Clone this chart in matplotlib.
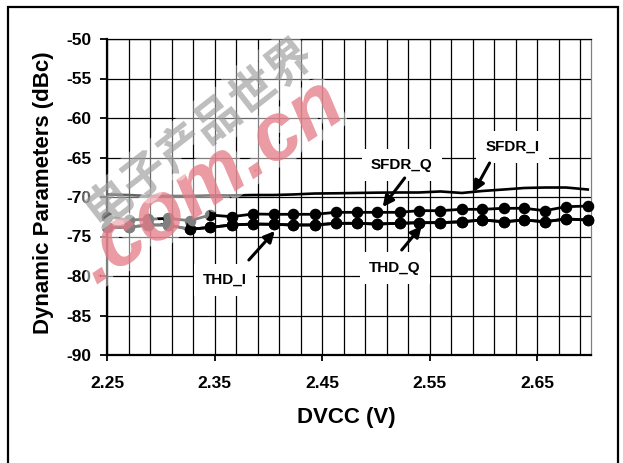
import numpy as np
import matplotlib
matplotlib.use("Agg")
import matplotlib.pyplot as plt
import matplotlib.patheffects as pe
from matplotlib.patches import Rectangle

# ---- data ----
dvcc = [2.250, 2.270, 2.288, 2.307, 2.327, 2.346, 2.366, 2.386, 2.405, 2.423,
        2.443, 2.463, 2.482, 2.501, 2.522, 2.540, 2.560, 2.580, 2.599, 2.619,
        2.638, 2.657, 2.677, 2.697]
sfdr_i = [-69.68, -69.75, -69.87, -69.87, -69.87, -69.80, -69.80, -69.75, -69.75, -69.68,
          -69.56, -69.53, -69.49, -69.45, -69.43, -69.43, -69.30, -69.49, -69.24, -69.05,
          -68.86, -68.80, -68.80, -69.05]
sfdr_q = [-72.49, -72.91, -72.82, -72.70, -73.00, -72.28, -72.49, -72.15, -72.19, -72.19,
          -72.19, -71.94, -71.94, -71.94, -71.94, -71.73, -71.73, -71.56, -71.56, -71.43,
          -71.43, -71.73, -71.23, -71.14]
thd_i = [-73.84, -73.84, -73.54, -73.54, -74.09, -73.84, -73.54, -73.42, -73.46, -73.54,
         -73.54, -73.33, -73.33, -73.42, -73.33, -73.25, -73.25, -73.13, -72.91, -73.13,
         -72.91, -73.13, -72.78, -72.91]
thd_q = [-73.84, -73.84, -73.54, -73.54, -74.09, -73.84, -73.54, -73.42, -73.46, -73.54,
         -73.54, -73.33, -73.33, -73.42, -73.33, -73.25, -73.25, -73.13, -72.91, -73.13,
         -72.91, -73.13, -72.78, -72.91]
x_ticks = [2.25, 2.35, 2.45, 2.55, 2.65]
x_ticklabels = ["2.25", "2.35", "2.45", "2.55", "2.65"]
y_ticks = [-90, -85, -80, -75, -70, -65, -60, -55, -50]
y_ticklabels = ["-90", "-85", "-80", "-75", "-70", "-65", "-60", "-55", "-50"]

plt.rcParams['font.family'] = ['Liberation Sans', 'DejaVu Sans']

W, H = 623, 463
fig = plt.figure(figsize=(W / 100, H / 100), dpi=100)
fig.patch.set_facecolor('white')

# plot area: x 107..591 px, y 39..355 px
ax = fig.add_axes([107 / W, 1 - 355 / H, (591 - 107) / W, (355 - 39) / H])
ax.set_xlim(2.25, 2.70)
ax.set_ylim(-90, -50)

# grid
ax.set_xticks(np.round(np.arange(2.27, 2.695, 0.02), 2), minor=True)
ax.set_xticks(x_ticks)
ax.set_xticklabels(x_ticklabels, fontsize=12.5, fontweight='bold')
ax.set_yticks(y_ticks)
ax.set_yticklabels(y_ticklabels, fontsize=12.5, fontweight='bold')
ax.grid(True, which='both', axis='x', color='black', lw=0.9, zorder=0)
ax.grid(True, which='major', axis='y', color='black', lw=0.9, zorder=0)
ax.set_axisbelow(True)
ax.tick_params(axis='x', which='minor', length=0)
ax.tick_params(axis='x', which='major', length=4, width=1.3, pad=11, direction='out')
ax.tick_params(axis='y', which='major', length=5, width=1.3, pad=6, direction='out')

for s in ['left', 'bottom']:
    ax.spines[s].set_linewidth(1.6)
ax.spines['top'].set_linewidth(0.9)
ax.spines['right'].set_linewidth(0.9)
ax.spines['right'].set_color('#808080')

# series
ax.plot(dvcc, sfdr_i, color='black', lw=1.9, zorder=3)
for ys in (sfdr_q, thd_i, thd_q):
    ax.plot(dvcc, ys, color='black', lw=2.0, marker='o', ms=7.3, zorder=4, clip_on=False)

# annotations
def px2data(px, py):
    return 2.25 + (px - 107) / 1076.7, -50 - (py - 39) / 7.9

labels = [
    ("SFDR_I", (513, 147), (490, 163), (474, 192)),
    ("SFDR_Q", (402, 165), (405, 178), (383, 207)),
    ("THD_I", (225, 280), (249, 260), (275, 231)),
    ("THD_Q", (395, 268), (402, 250), (422, 226)),
]
for txt, tpos, tail, tip in labels:
    ax.text(*px2data(*tpos), txt, fontsize=11, fontweight='bold', ha='center', va='center',
            zorder=6, bbox=dict(boxstyle='square,pad=0.6', fc='white', ec='none'))
    ax.annotate('', xy=px2data(*tip), xytext=px2data(*tail),
                arrowprops=dict(arrowstyle='-|>', color='black', lw=2.2, mutation_scale=16,
                                shrinkA=0, shrinkB=0), zorder=7)

# axis titles
fig.text(346.5 / W, 1 - 418 / H, "DVCC (V)", fontsize=16, fontweight='bold',
         ha='center', va='center')
fig.text(43.5 / W, 1 - 193 / H, "Dynamic Parameters (dBc)", fontsize=16,
         fontweight='bold', rotation=90, ha='center', va='center')

# figure frame (open at the bottom)
fig.add_artist(Rectangle((8 / W, -0.05), (618 - 8) / W, 1.05 - 7 / H,
                         transform=fig.transFigure, fill=False, ec='black', lw=1.6))

# watermark
halo = [pe.withStroke(linewidth=10, foreground=(1, 1, 1, 0.4))]
fig.text(210 / W, 1 - 183 / H, ".com.cn", fontsize=58, fontweight='heavy', style='italic',
         color='#e0606e', alpha=0.5, rotation=34, ha='center', va='center', zorder=10,
         path_effects=halo)
fig.text(200 / W, 1 - 135 / H, "电子产品世界", fontsize=33,
         family=['Noto Sans CJK SC', 'DejaVu Sans'], fontweight='bold',
         color='#8a8a8a', alpha=0.4, rotation=38, ha='center', va='center', zorder=10,
         path_effects=halo)

fig.savefig("out.png", dpi=100, facecolor='white')
